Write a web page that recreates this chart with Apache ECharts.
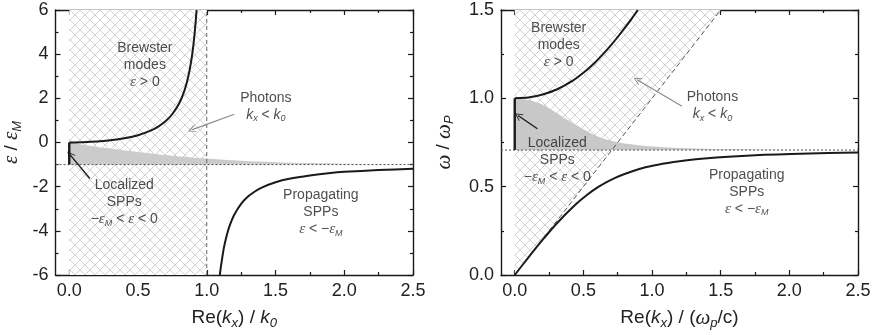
<!DOCTYPE html>
<html>
<head>
<meta charset="utf-8">
<script src="https://cdn.jsdelivr.net/npm/echarts@6/dist/echarts.min.js"></script>
<style>
  html, body { margin: 0; padding: 0; background: #fff; }
  #chart { width: 880px; height: 335px; }
</style>
</head>
<body>
<div id="chart"></div>
<script>
// ---- shared wave-vector axis ----
const kMajorTicks = [0, 0.5, 1.0, 1.5, 2.0, 2.5];
const kMinorTicks = [0.25, 0.75, 1.25, 1.75, 2.25];

// ---- left panel: permittivity ratio vs Re(kx)/k0 ----
const epsBrewster = [
  [0, 0], [0.1, 0.01], [0.2, 0.04], [0.3, 0.10], [0.4, 0.19], [0.5, 0.33],
  [0.6, 0.56], [0.65, 0.73], [0.7, 0.96], [0.75, 1.29], [0.8, 1.78],
  [0.83, 2.21], [0.85, 2.60], [0.87, 3.11], [0.89, 3.81], [0.9, 4.26],
  [0.91, 4.82], [0.92, 5.51], [0.926, 6.0]
];
const epsPropagating = [
  [1.095, -6.0], [1.1, -5.76], [1.105, -5.53], [1.12, -4.93], [1.13, -4.61],
  [1.15, -4.10], [1.17, -3.71], [1.2, -3.27], [1.25, -2.78], [1.3, -2.45],
  [1.35, -2.22], [1.4, -2.04], [1.5, -1.80], [1.6, -1.64], [1.75, -1.49],
  [1.9, -1.38], [2.0, -1.33], [2.25, -1.25], [2.5, -1.19]
];
const epsLocalizedBand = [
  [0, 0], [0.1, -0.10], [0.25, -0.24], [0.5, -0.43], [0.75, -0.60],
  [1.0, -0.73], [1.25, -0.83], [1.5, -0.89], [1.75, -0.93], [2.0, -0.96],
  [2.5, -0.985]
];
const epsSurfaceLevel = -1;
const epsLocalizedEdge = [[0, 0], [0, -1]];
const epsAsymptote = [[-0.1, -1], [2.5, -1]];
const epsLightLine = [[1, -6], [1, 6]];
const epsPhotonTop = [[0, 6], [1, 6]];
const epsPhotonArrow = [[1.2, 1.28], [0.89, 0.57]];
const epsLocalArrow = [[0.15, -1.63], [0.005, -0.55]];

// ---- right panel: frequency vs Re(kx)/(wp/c) ----
const wBrewster = [
  [0, 1.0], [0.0996, 1.005], [0.14, 1.01], [0.197, 1.02], [0.306, 1.05],
  [0.423, 1.1], [0.509, 1.15], [0.581, 1.2], [0.643, 1.25], [0.70, 1.3],
  [0.753, 1.35], [0.803, 1.4], [0.851, 1.45], [0.896, 1.5]
];
const wPropagating = [
  [0, 0], [0.1, 0.1], [0.204, 0.2], [0.316, 0.3], [0.445, 0.4], [0.521, 0.45],
  [0.612, 0.5], [0.731, 0.55], [0.907, 0.6], [1.012, 0.62], [1.157, 0.64],
  [1.255, 0.65], [1.382, 0.66], [1.556, 0.67], [1.818, 0.68], [2.012, 0.685],
  [2.284, 0.69], [2.5, 0.6928]
];
const wLocalizedBand = [
  [0, 1.0], [0.1, 0.99], [0.2, 0.965], [0.3, 0.92], [0.4, 0.87], [0.5, 0.825],
  [0.6, 0.785], [0.7, 0.76], [0.8, 0.745], [1.0, 0.728], [1.25, 0.718],
  [1.5, 0.713], [2.0, 0.709], [2.5, 0.708]
];
const wSurfaceLevel = 0.7071;
const wLocalizedEdge = [[0, 0.7071], [0, 1.0]];
const wAsymptote = [[-0.1, 0.7071], [2.5, 0.7071]];
const wLightLine = [[0, 0], [1.5, 1.5]];
const wPhotonArrow = [[1.218, 0.955], [0.891, 1.105]];
const wLocalArrow = [[0.165, 0.828], [0.024, 0.903]];

// ---- styling ----
const INK = '#1a1a1a';
const TXT = '#222222';
const SANS = '"Liberation Sans", Arial, Helvetica, sans-serif';
const SERIF = '"Liberation Serif", "Times New Roman", serif';

// cross-hatch tile for the photon (light-cone) region
const hatchTile = (function () {
  const c = document.createElement('canvas');
  const s = 10;
  c.width = s; c.height = s;
  const g = c.getContext('2d');
  g.fillStyle = '#ffffff';
  g.fillRect(0, 0, s, s);
  g.strokeStyle = '#cdcdcd';
  g.lineWidth = 0.9;
  g.beginPath();
  g.moveTo(-1, -1); g.lineTo(s + 1, s + 1);
  g.moveTo(s + 1, -1); g.lineTo(-1, s + 1);
  g.stroke();
  return c;
})();
const hatch = { image: hatchTile, repeat: 'repeat' };

const noteRich = {
  t: { fontFamily: SANS, fontSize: 14, color: TXT, lineHeight: 17, align: 'center' },
  k: { fontFamily: SANS, fontStyle: 'italic', fontSize: 14, color: TXT, lineHeight: 17, align: 'center' },
  g: { fontFamily: SERIF, fontStyle: 'italic', fontSize: 15, color: TXT, lineHeight: 17, align: 'center' },
  s: { fontFamily: SANS, fontStyle: 'italic', fontSize: 9, color: TXT, lineHeight: 9, verticalAlign: 'bottom', align: 'center' }
};
const nameRich = {
  t: { fontFamily: SANS, fontSize: 19, color: TXT, lineHeight: 24 },
  k: { fontFamily: SANS, fontStyle: 'italic', fontSize: 19, color: TXT, lineHeight: 24 },
  g: { fontFamily: SERIF, fontStyle: 'italic', fontSize: 21, color: TXT, lineHeight: 24 },
  s: { fontFamily: SANS, fontStyle: 'italic', fontSize: 13, color: TXT, lineHeight: 12, verticalAlign: 'bottom' }
};

const frameLine = { lineStyle: { color: INK, width: 1.4 } };
const tickLine = { color: INK, width: 1.2 };

function xAxesFor(gridIndex, name, nameGap) {
  const base = {
    type: 'value', gridIndex: gridIndex, min: -0.1, max: 2.5,
    splitLine: { show: false }
  };
  return [
    Object.assign({}, base, {
      position: 'bottom',
      axisLine: Object.assign({ show: true, onZero: false }, frameLine),
      axisTick: { show: true, inside: true, length: 5, customValues: kMajorTicks, lineStyle: tickLine },
      axisLabel: {
        customValues: kMajorTicks, margin: 7, fontFamily: SANS, fontSize: 18, color: TXT,
        formatter: function (v) { return v.toFixed(1); }
      },
      name: name, nameLocation: 'middle', nameGap: nameGap,
      nameTextStyle: { rich: nameRich }
    }),
    Object.assign({}, base, {
      position: 'bottom',
      axisLine: { show: false, onZero: false },
      axisTick: { show: true, inside: true, length: 3, customValues: kMinorTicks, lineStyle: tickLine },
      axisLabel: { show: false }
    }),
    Object.assign({}, base, {
      position: 'top',
      axisLine: Object.assign({ show: true, onZero: false }, frameLine),
      axisTick: { show: true, inside: true, length: 5, customValues: kMajorTicks, lineStyle: tickLine },
      axisLabel: { show: false }
    }),
    Object.assign({}, base, {
      position: 'top',
      axisLine: { show: false, onZero: false },
      axisTick: { show: true, inside: true, length: 3, customValues: kMinorTicks, lineStyle: tickLine },
      axisLabel: { show: false }
    })
  ];
}

function yAxesFor(gridIndex, min, max, interval, fmt, name, nameGap) {
  const base = {
    type: 'value', gridIndex: gridIndex, min: min, max: max, interval: interval,
    splitLine: { show: false },
    axisTick: { show: true, inside: true, length: 5, lineStyle: tickLine },
    minorTick: { show: true, splitNumber: 2, length: 3, lineStyle: tickLine },
    minorSplitLine: { show: false }
  };
  return [
    Object.assign({}, base, {
      position: 'left',
      axisLine: Object.assign({ show: true, onZero: false }, frameLine),
      axisLabel: { margin: 7, fontFamily: SANS, fontSize: 18, color: TXT, formatter: fmt },
      name: name, nameLocation: 'middle', nameGap: nameGap, nameRotate: 90,
      nameTextStyle: { rich: nameRich }
    }),
    Object.assign({}, base, {
      position: 'right',
      axisLine: Object.assign({ show: true, onZero: false }, frameLine),
      axisLabel: { show: false }
    })
  ];
}

function curve(xi, yi, data, opts) {
  return Object.assign({
    type: 'line', xAxisIndex: xi, yAxisIndex: yi, data: data,
    symbol: 'none', showSymbol: false, silent: true, animation: false,
    lineStyle: { color: INK, width: 2 }, z: 5
  }, opts || {});
}

const chevron = 'path://M0,12 L6,0 L12,12 L10.6,12 L6,2.8 L1.4,12 Z';
function arrow(xi, yi, coords, color, width) {
  return {
    type: 'lines', coordinateSystem: 'cartesian2d', xAxisIndex: xi, yAxisIndex: yi,
    silent: true, animation: false, z: 8,
    symbol: ['none', chevron], symbolSize: [8, 8],
    lineStyle: { color: color, width: width, opacity: 1 },
    data: [{ coords: coords }]
  };
}

function note(xi, yi, pos, text) {
  return {
    type: 'scatter', xAxisIndex: xi, yAxisIndex: yi, silent: true, animation: false,
    symbolSize: 1, itemStyle: { color: 'transparent' }, z: 9,
    data: [pos],
    label: {
      show: true, position: 'inside', align: 'center', verticalAlign: 'middle',
      formatter: text, rich: noteRich
    }
  };
}

const option = {
  backgroundColor: '#ffffff',
  animation: false,
  grid: [
    { left: 54, top: 10, width: 359, height: 268 },
    { left: 501, top: 10, width: 357, height: 268 }
  ],
  xAxis: [].concat(
    xAxesFor(0, '{t|Re(}{k|k}{s|x}{t|) / }{k|k}{s|0}', 31),
    xAxesFor(1, '{t|Re(}{k|k}{s|x}{t|) / (}{g|ω}{s|p}{t|/c)}', 31)
  ),
  yAxis: [].concat(
    yAxesFor(0, -6, 6, 2, function (v) { return String(v); }, '{g|ε}{t| / }{g|ε}{s|M}', 32),
    yAxesFor(1, 0, 1.5, 0.5, function (v) { return v.toFixed(1); }, '{g|ω}{t| / }{g|ω}{s|P}', 45)
  ),
  series: [
    // ---- left panel ----
    curve(0, 0, epsPhotonTop, {
      lineStyle: { width: 0, opacity: 0 }, z: 1,
      areaStyle: { color: hatch, opacity: 1, origin: 'start' }
    }),
    curve(0, 0, epsLocalizedBand, {
      lineStyle: { width: 0, opacity: 0 }, z: 2, smooth: 0.3,
      areaStyle: { color: '#cbcbcb', opacity: 1, origin: epsSurfaceLevel }
    }),
    curve(0, 0, epsLightLine, { lineStyle: { color: '#666', width: 1, type: [4, 3] }, z: 3 }),
    curve(0, 0, epsAsymptote, { lineStyle: { color: '#555', width: 1, type: [2, 2] }, z: 3 }),
    curve(0, 0, epsBrewster, { smooth: 0.2 }),
    curve(0, 0, epsPropagating, { smooth: 0.2 }),
    curve(0, 0, epsLocalizedEdge, { lineStyle: { color: INK, width: 2.4 }, z: 6 }),
    arrow(0, 0, epsPhotonArrow, '#8a8a8a', 1.2),
    arrow(0, 0, epsLocalArrow, INK, 1.4),
    note(0, 0, [0.55, 3.52], '{t|Brewster}\n{t|modes}\n{g|ε}{t| > 0}'),
    note(0, 0, [1.43, 1.64], '{t|Photons}\n{k|k}{s|x}{t| < }{k|k}{s|0}'),
    note(0, 0, [0.40, -2.70], '{t|Localized}\n{t|SPPs}\n{t|−}{g|ε}{s|M}{t| < }{g|ε}{t| < 0}'),
    note(0, 0, [1.83, -3.15], '{t|Propagating}\n{t|SPPs}\n{g|ε}{t| < −}{g|ε}{s|M}'),

    // ---- right panel ----
    curve(4, 2, wLightLine, {
      lineStyle: { width: 0, opacity: 0 }, z: 1,
      areaStyle: { color: hatch, opacity: 1, origin: 'end' }
    }),
    curve(4, 2, wLocalizedBand, {
      lineStyle: { width: 0, opacity: 0 }, z: 2, smooth: 0.3,
      areaStyle: { color: '#c8c8c8', opacity: 1, origin: wSurfaceLevel }
    }),
    curve(4, 2, wLightLine, { lineStyle: { color: '#555', width: 1, type: [5, 3] }, z: 3 }),
    curve(4, 2, wAsymptote, { lineStyle: { color: '#555', width: 1, type: [2, 2] }, z: 3 }),
    curve(4, 2, wBrewster, { smooth: 0.2 }),
    curve(4, 2, wPropagating, { smooth: 0.2 }),
    curve(4, 2, wLocalizedEdge, { lineStyle: { color: INK, width: 2.4 }, z: 6 }),
    arrow(4, 2, wPhotonArrow, '#8a8a8a', 1.2),
    arrow(4, 2, wLocalArrow, INK, 1.4),
    note(4, 2, [0.32, 1.30], '{t|Brewster}\n{t|modes}\n{g|ε}{t| > 0}'),
    note(4, 2, [1.44, 0.957], '{t|Photons}\n{k|k}{s|x}{t| < }{k|k}{s|0}'),
    note(4, 2, [0.31, 0.649], '{t|Localized}\n{t|SPPs}\n{t|−}{g|ε}{s|M}{t| < }{g|ε}{t| < 0}'),
    note(4, 2, [1.69, 0.470], '{t|Propagating}\n{t|SPPs}\n{g|ε}{t| < −}{g|ε}{s|M}')
  ]
};

const chart = echarts.init(document.getElementById('chart'), null, { renderer: 'canvas' });
chart.setOption(option);
</script>
</body>
</html>
